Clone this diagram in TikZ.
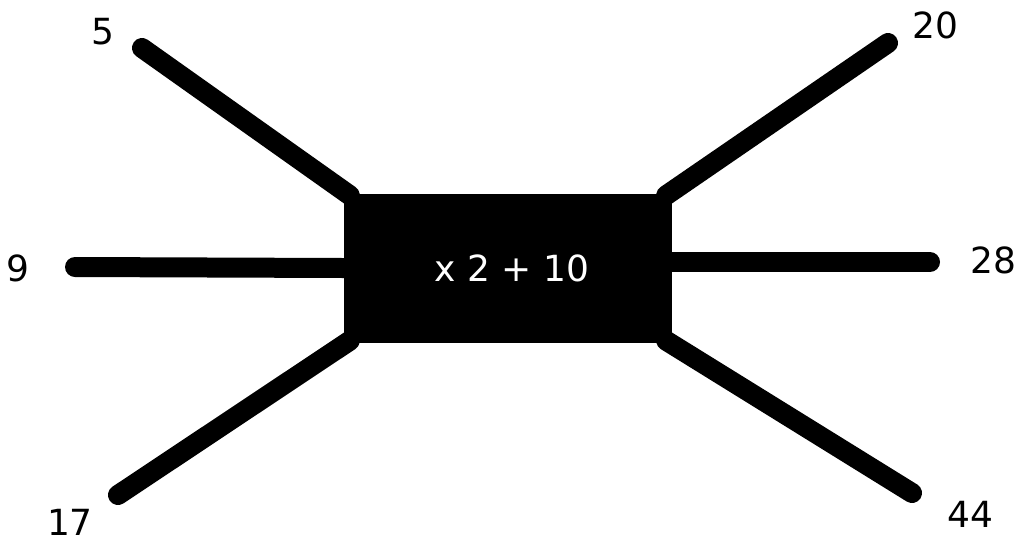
\documentclass[tikz,border=0pt]{standalone}
\usepackage{fontspec}
\setmainfont{DejaVu Sans}
\usetikzlibrary{backgrounds}
\tikzset{every node/.style={font=\fontsize{36}{40}\selectfont},
  machine/.style={fill=black,text=white,minimum width=328pt,minimum height=149pt,inner sep=0pt},
  spoke/.style={draw=black,line width=20pt,line cap=round},
  numlabel/.style={inner sep=0pt}}

\begin{document}
\begin{tikzpicture}[x=1pt,y=-1pt]
\useasboundingbox (0,0) rectangle (1020,542);
\node[machine] (box) at (508,268) {\hspace{8pt}x 2 + 10};
\coordinate (inTL) at (142,48);
\coordinate (inL) at (75,267);
\coordinate (inBL) at (118,495);
\coordinate (outTR) at (888,43);
\coordinate (outR) at (930,262);
\coordinate (outBR) at (912,493);
\begin{scope}[on background layer]
\draw[spoke] (inTL)--([shift={(6pt,-2pt)}]box.north west);
\draw[spoke] (inL)--(box.west);
\draw[spoke] (inBL)--([shift={(6pt,2pt)}]box.south west);
\draw[spoke] (outTR)--([shift={(-6pt,-2pt)}]box.north east);
\draw[spoke] (outR)--([yshift=6pt]box.east);
\draw[spoke] (outBR)--([shift={(-6pt,2pt)}]box.south east);
\end{scope}
\node[numlabel] (n5) at (103,32) {5};
\node[numlabel] (n9) at (18,268) {9};
\node[numlabel] (n17) at (70,522) {17};
\node[numlabel] (n20) at (935,25) {20};
\node[numlabel] (n28) at (993,260) {28};
\node[numlabel] (n44) at (970,514) {44};
\end{tikzpicture}
\end{document}
